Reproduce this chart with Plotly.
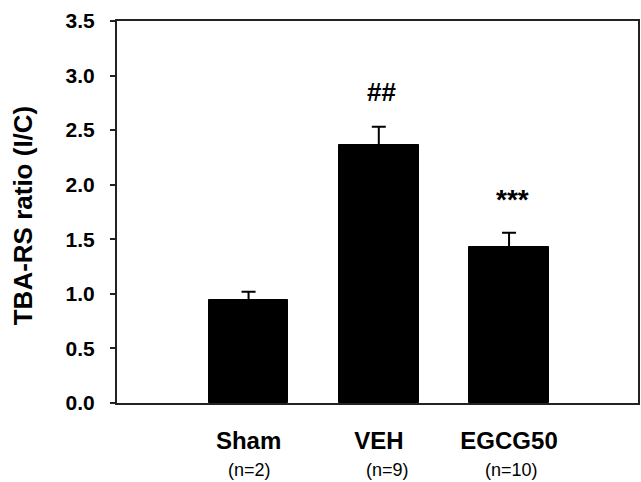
import plotly.graph_objects as go

categories = ["Sham", "VEH", "EGCG50"]
n_labels = ["(n=2)", "(n=9)", "(n=10)"]
means = [0.94, 2.36, 1.43]
sem = [0.08, 0.17, 0.13]
sig_labels = ["", "##", "***"]
sig_y = [None, 2.85, 1.86]
y_ticks = [0.0, 0.5, 1.0, 1.5, 2.0, 2.5, 3.0, 3.5]

FONT = "Liberation Sans, Arial, sans-serif"
x_pos = list(range(len(categories)))

fig = go.Figure()
fig.add_trace(go.Bar(
    x=x_pos, y=means, width=0.61,
    marker=dict(color="black", line=dict(color="black", width=1)),
    error_y=dict(type="data", array=sem, arrayminus=[0]*len(sem), symmetric=False,
                 color="black", thickness=2, width=7),
    showlegend=False,
))

# significance marks
sig_dx = [0, 0.02, 0.03]
for i, (lab, yy) in enumerate(zip(sig_labels, sig_y)):
    if lab:
        fig.add_annotation(x=x_pos[i] + sig_dx[i], y=yy, text=f"<b>{lab}</b>", showarrow=False,
                           font=dict(family=FONT, size=26 if lab == "##" else 28, color="black"),
                           xanchor="center", yanchor="middle")

# n labels
n_offsets = [0.01, 0.07, 0.02]
for i, lab in enumerate(n_labels):
    fig.add_annotation(x=x_pos[i] + n_offsets[i], y=0, yref="paper", yshift=-67, text=lab,
                       showarrow=False, font=dict(family=FONT, size=18, color="black"),
                       xanchor="center", yanchor="middle")

# y-axis title
fig.add_annotation(x=-0.18, y=0.492, xref="paper", yref="paper",
                   text="<b>TBA-RS ratio (I/C)</b>", textangle=-90, showarrow=False,
                   font=dict(family=FONT, size=26, color="black"),
                   xanchor="center", yanchor="middle")

fig.update_layout(
    width=641, height=482,
    margin=dict(l=117, r=3, t=21, b=79, autoexpand=False),
    plot_bgcolor="white", paper_bgcolor="white",
    font=dict(family=FONT, color="black"),
    bargap=0,
)
fig.update_xaxes(
    range=[-1.01, 2.99], tickvals=x_pos, ticktext=[f"<b>{c}</b>" for c in categories],
    tickfont=dict(family=FONT, size=24, color="black"),
    showline=True, linecolor="#222", linewidth=2, mirror=True,
    ticks="", showgrid=False, zeroline=False, ticklabelstandoff=15, automargin=False,
)
fig.update_yaxes(
    range=[0, 3.5], tickvals=y_ticks, ticktext=[f"<b>{v:.1f}</b>" for v in y_ticks],
    tickfont=dict(family=FONT, size=21, color="black"),
    showline=True, linecolor="#222", linewidth=2, mirror=True,
    ticks="outside", ticklen=5, tickwidth=2, tickcolor="#222",
    showgrid=False, zeroline=False, ticklabelstandoff=11, automargin=False,
)

fig.write_html("out.html", config={"displayModeBar": False},
               post_script="document.body.style.margin='0';")
